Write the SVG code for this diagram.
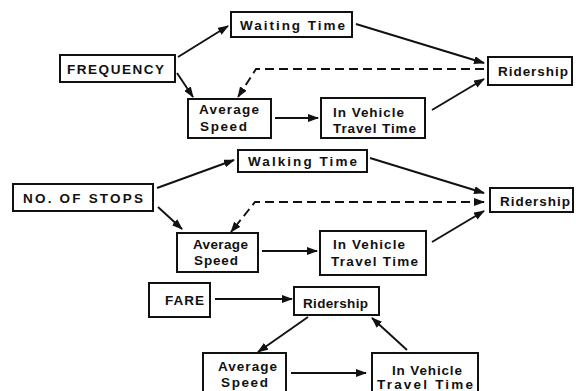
<svg xmlns="http://www.w3.org/2000/svg" width="576" height="391" viewBox="0 0 576 391">
<style>
.box{fill:#fff;stroke:#111;stroke-width:2}
.t{font-family:"Liberation Sans",Arial,sans-serif;font-weight:bold;font-size:13.5px;fill:#111}
.c{stroke:#111;stroke-width:1.9;fill:none;marker-end:url(#ah)}
.d{stroke:#111;stroke-width:1.9;fill:none;stroke-dasharray:9 5;marker-end:url(#ah)}
</style>
<defs>
<marker id="ah" markerUnits="userSpaceOnUse" markerWidth="11" markerHeight="8" refX="10" refY="4" orient="auto-start-reverse">
<path d="M0,0 L11,4 L0,8 z" fill="#111"/>
</marker>
</defs>
<rect width="576" height="391" fill="#fff"/>
<g id="connectors">
<line class="c" x1="178" y1="57" x2="228" y2="26"/>
<line class="c" x1="177" y1="73" x2="193" y2="97"/>
<line class="c" x1="356" y1="24" x2="484" y2="63"/>
<path class="d" d="M484,69 H256 L238,97"/>
<line class="c" x1="275" y1="118" x2="318" y2="118"/>
<line class="c" x1="432" y1="110" x2="484" y2="79"/>
<line class="c" x1="157" y1="188" x2="234" y2="160"/>
<line class="c" x1="158" y1="207" x2="182" y2="229"/>
<line class="c" x1="370" y1="158" x2="484" y2="193"/>
<path class="d" d="M484,202 H255 L231,232" style="marker-start:url(#ah)"/>
<line class="c" x1="262" y1="251" x2="317" y2="251"/>
<line class="c" x1="432" y1="242" x2="484" y2="211"/>
<line class="c" x1="215" y1="299" x2="292" y2="299"/>
<line class="c" x1="308" y1="317" x2="258" y2="352"/>
<line class="c" x1="291" y1="373" x2="366" y2="373"/>
<line class="c" x1="407" y1="350" x2="372" y2="318"/>
</g>
<g id="waiting1"><rect class="box" x="231" y="12" width="121" height="25"/><text class="t" x="240" y="30" textLength="105" lengthAdjust="spacing">Waiting Time</text></g>
<g id="frequency"><rect class="box" x="60" y="55" width="115" height="27"/><text class="t" x="67" y="74" textLength="97" lengthAdjust="spacing">FREQUENCY</text></g>
<g id="avg1"><rect class="box" x="188" y="99" width="83" height="39"/><text class="t" x="199" y="114" textLength="60" lengthAdjust="spacing">Average</text><text class="t" x="200" y="131" textLength="47" lengthAdjust="spacing">Speed</text></g>
<g id="ivtt1"><rect class="box" x="321" y="98" width="104" height="40"/><text class="t" x="333" y="117" textLength="71" lengthAdjust="spacing">In Vehicle</text><text class="t" x="333" y="133" textLength="83" lengthAdjust="spacing">Travel Time</text></g>
<g id="ridership1"><rect class="box" x="488" y="57" width="84" height="28"/><text class="t" x="498" y="76" textLength="70" lengthAdjust="spacing">Ridership</text></g>
<g id="walking"><rect class="box" x="238" y="150" width="129" height="22"/><text class="t" x="248" y="166" textLength="109" lengthAdjust="spacing">Walking Time</text></g>
<g id="stops"><rect class="box" x="13" y="184" width="140" height="27"/><text class="t" x="23" y="203" textLength="120" lengthAdjust="spacing">NO.  OF STOPS</text></g>
<g id="avg2"><rect class="box" x="177" y="233" width="81" height="39"/><text class="t" x="193" y="249" textLength="55" lengthAdjust="spacing">Average</text><text class="t" x="194" y="265" textLength="44" lengthAdjust="spacing">Speed</text></g>
<g id="ivtt2"><rect class="box" x="320" y="231" width="106" height="44"/><text class="t" x="333" y="249" textLength="72" lengthAdjust="spacing">In Vehicle</text><text class="t" x="331" y="266" textLength="87" lengthAdjust="spacing">Travel Time</text></g>
<g id="ridership2"><rect class="box" x="490" y="188" width="83" height="24"/><text class="t" x="500" y="206" textLength="70" lengthAdjust="spacing">Ridership</text></g>
<g id="fare"><rect class="box" x="149" y="283" width="61" height="34"/><text class="t" x="165" y="305" textLength="39" lengthAdjust="spacing">FARE</text></g>
<g id="ridership3"><rect class="box" x="294" y="287" width="85" height="28"/><text class="t" x="303" y="308" textLength="65" lengthAdjust="spacing">Ridership</text></g>
<g id="avg3"><rect class="box" x="203" y="353" width="83" height="40"/><text class="t" x="218" y="371" textLength="59" lengthAdjust="spacing">Average</text><text class="t" x="221" y="387" textLength="47" lengthAdjust="spacing">Speed</text></g>
<g id="ivtt3"><rect class="box" x="372" y="353" width="106" height="40"/><text class="t" x="392" y="375" textLength="70" lengthAdjust="spacing">In Vehicle</text><text class="t" x="377" y="389" textLength="96" lengthAdjust="spacing">Travel Time</text></g>
</svg>
